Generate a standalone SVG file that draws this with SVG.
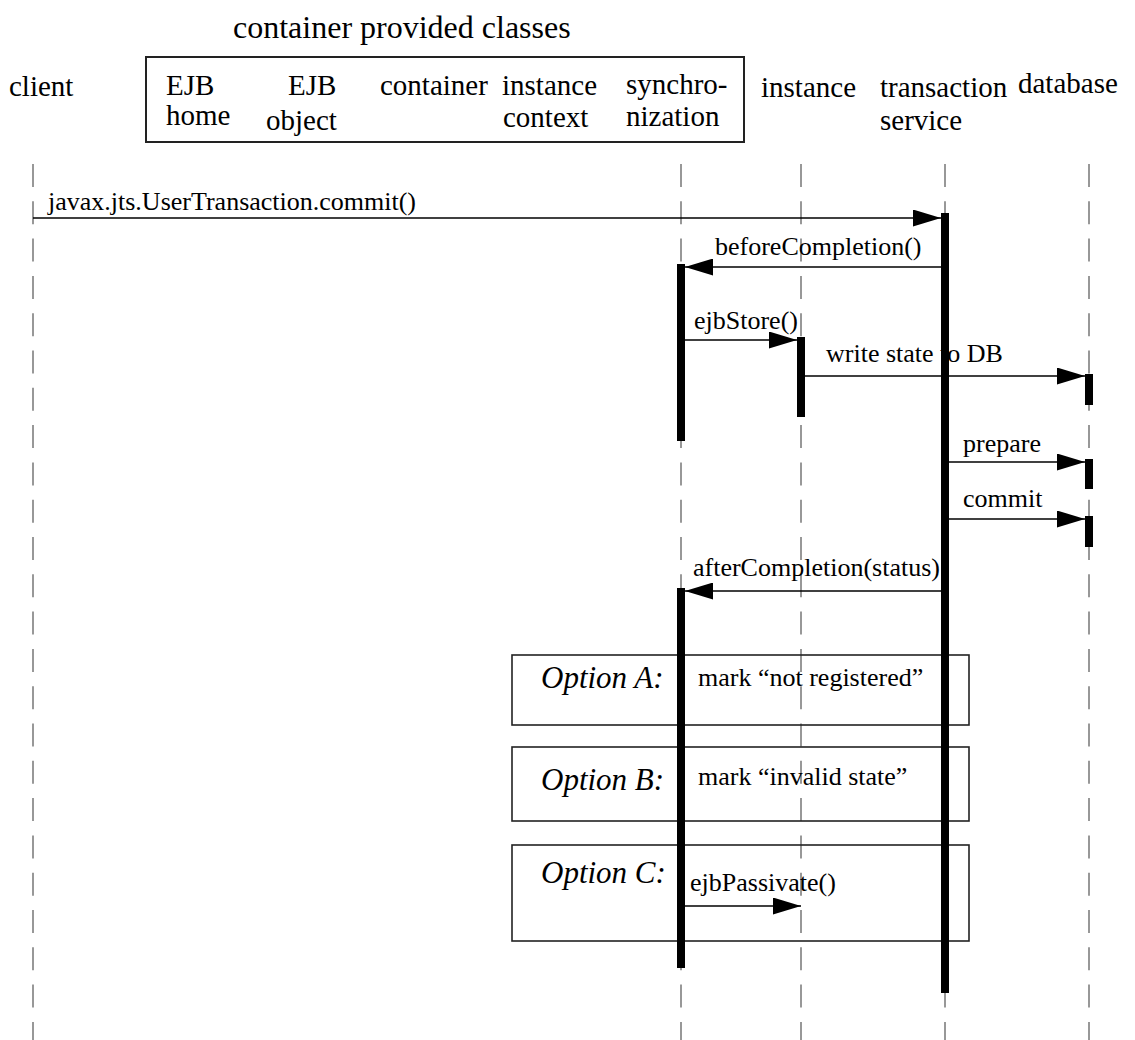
<svg xmlns="http://www.w3.org/2000/svg" width="1135" height="1040" viewBox="0 0 1135 1040">
<style>
text{font-family:"Liberation Serif","DejaVu Serif","Times New Roman",serif;fill:#000}
.hd{font-size:29px}
.ti{font-size:32px}
.msg{font-size:26px}
.opt{font-size:31px;font-style:italic}
.life{stroke:#777;stroke-width:1.5;stroke-dasharray:23 14.3;fill:none}
.bar{fill:#000}
.conn{stroke:#000;stroke-width:1.5;fill:none;marker-end:url(#ah)}
.box{fill:none;stroke:#222;stroke-width:1.6}
</style>
<defs>
<marker id="ah" markerUnits="userSpaceOnUse" markerWidth="28" markerHeight="17" refX="28" refY="8.5" orient="auto">
<path d="M0,0 L28,8.5 L0,17 z" fill="#000"/>
</marker>
</defs>
<rect width="1135" height="1040" fill="#fff"/>

<g id="container-group">
<text class="ti" x="233" y="38">container provided classes</text>
<rect x="146" y="57" width="598" height="85" fill="none" stroke="#222" stroke-width="2"/>
</g>

<g id="lifelines">
<line class="life" x1="33" y1="164" x2="33" y2="1040"/>
<line class="life" x1="681" y1="164" x2="681" y2="1040"/>
<line class="life" x1="801" y1="164" x2="801" y2="1040"/>
<line class="life" x1="945" y1="164" x2="945" y2="1040"/>
<line class="life" x1="1089" y1="164" x2="1089" y2="1040"/>
</g>

<g id="client"><text class="hd" x="9" y="96">client</text></g>
<g id="ejb-home"><text class="hd" x="166" y="95">EJB</text><text class="hd" x="166" y="125">home</text></g>
<g id="ejb-object"><text class="hd" x="288" y="95">EJB</text><text class="hd" x="266" y="130">object</text></g>
<g id="container"><text class="hd" x="380" y="95">container</text></g>
<g id="instance-context"><text class="hd" x="502" y="95">instance</text><text class="hd" x="503" y="127">context</text></g>
<g id="synchronization"><text class="hd" x="626" y="94">synchro-</text><text class="hd" x="626" y="126">nization</text></g>
<g id="instance"><text class="hd" x="761" y="97">instance</text></g>
<g id="transaction-service"><text class="hd" x="880" y="97">transaction</text><text class="hd" x="880" y="130">service</text></g>
<g id="database"><text class="hd" x="1018" y="93">database</text></g>

<g id="option-a"><rect class="box" x="512" y="655" width="457" height="70"/><text class="opt" x="541" y="688">Option A:</text><text class="msg" x="698" y="686">mark “not registered”</text></g>
<g id="option-b"><rect class="box" x="512" y="747" width="457" height="74"/><text class="opt" x="541" y="790">Option B:</text><text class="msg" x="698" y="785">mark “invalid state”</text></g>
<g id="option-c"><rect class="box" x="512" y="845" width="457" height="96"/><text class="opt" x="541" y="883">Option C:</text></g>

<g id="connectors">
<line class="conn" x1="33" y1="218" x2="941" y2="218"/>
<text class="msg" x="48" y="210">javax.jts.UserTransaction.commit()</text>
<line class="conn" x1="941" y1="267" x2="685" y2="267"/>
<text class="msg" x="715" y="255">beforeCompletion()</text>
<line class="conn" x1="685" y1="340" x2="797" y2="340"/>
<text class="msg" x="694" y="329">ejbStore()</text>
<line class="conn" x1="805" y1="376" x2="1085" y2="376"/>
<text class="msg" x="826" y="362">write state to DB</text>
<line class="conn" x1="949" y1="462" x2="1085" y2="462"/>
<text class="msg" x="963" y="452">prepare</text>
<line class="conn" x1="949" y1="519" x2="1085" y2="519"/>
<text class="msg" x="963" y="507">commit</text>
<line class="conn" x1="941" y1="591" x2="685" y2="591"/>
<text class="msg" x="693" y="576">afterCompletion(status)</text>
<line class="conn" x1="685" y1="906" x2="801" y2="906"/>
<text class="msg" x="690" y="891">ejbPassivate()</text>
</g>

<g id="activations">
<rect class="bar" x="941" y="213" width="8" height="780"/>
<rect class="bar" x="677" y="264" width="8" height="177"/>
<rect class="bar" x="797" y="337" width="8" height="80"/>
<rect class="bar" x="1085" y="374" width="8" height="31"/>
<rect class="bar" x="1085" y="459" width="8" height="30"/>
<rect class="bar" x="1085" y="516" width="8" height="31"/>
<rect class="bar" x="677" y="588" width="8" height="380"/>
</g>
</svg>
